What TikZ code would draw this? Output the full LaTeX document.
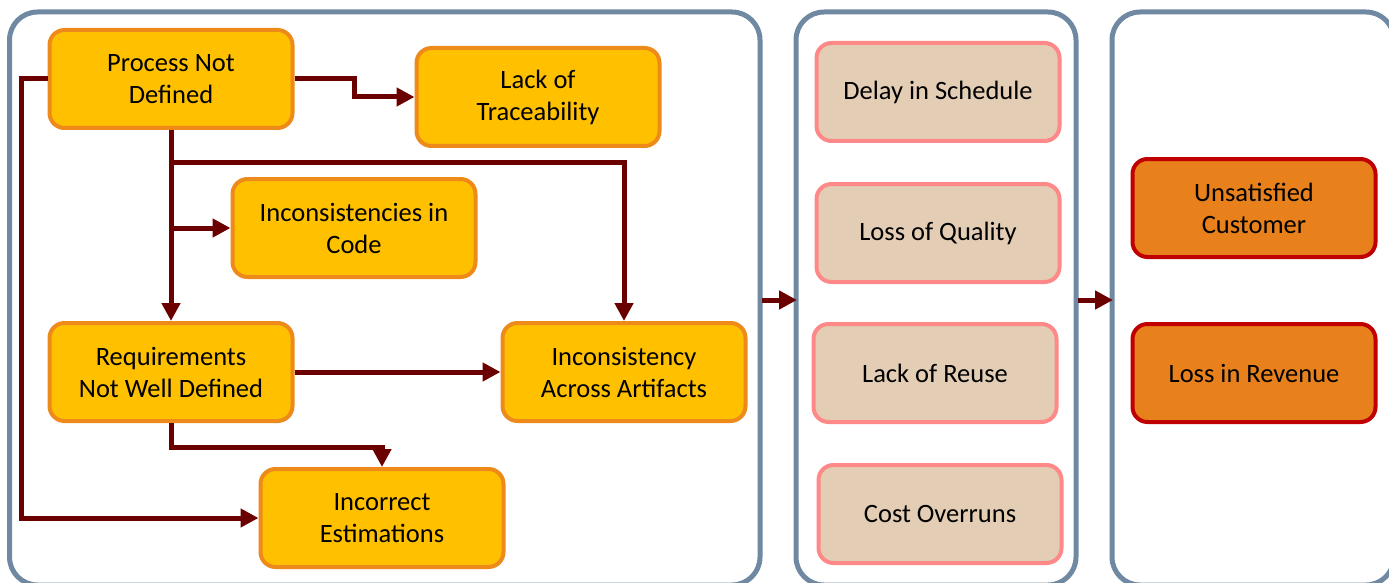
\documentclass[tikz,border=0pt]{standalone}
\usepackage{fontspec}
\setmainfont{Carlito}
\usetikzlibrary{arrows.meta,calc}
\definecolor{panelc}{HTML}{7089A3}
\definecolor{yfill}{HTML}{FFC000}
\definecolor{ydraw}{HTML}{EE8A1A}
\definecolor{pfill}{HTML}{E3CDB4}
\definecolor{pdraw}{HTML}{FF8888}
\definecolor{ofill}{HTML}{E8801C}
\definecolor{odraw}{HTML}{C00000}
\definecolor{arrc}{HTML}{6A0000}
\tikzset{
  panel/.style={draw=panelc, line width=5pt, rounded corners=28pt, fill=white},
  box/.style={rounded corners=15pt, line width=4pt, minimum width=243pt, minimum height=98pt,
    align=center, font=\fontsize{26.5}{32}\selectfont, text=black, inner sep=0pt},
  ybox/.style={box, draw=ydraw, fill=yfill},
  pbox/.style={box, draw=pdraw, fill=pfill},
  obox/.style={box, draw=odraw, fill=ofill},
  arr/.style={draw=arrc, line width=5pt, -{Triangle[length=18pt,width=18pt]}},
}
\begin{document}
\begin{tikzpicture}[x=1pt,y=-1pt]
\useasboundingbox (0,0) rectangle (1389,583);
\clip (0,0) rectangle (1389,583);
% panels
\draw[panel] (9.5,12) rectangle (760,585);
\draw[panel] (796,12) rectangle (1076,585);
\draw[panel] (1112,12) rectangle (1394,585);
% left panel nodes
\node[ybox] (pnd) at (171,79) {Process Not\\Defined};
\node[ybox] (lot) at (538,97) {Lack of\\Traceability};
\node[ybox] (iic) at (354,228) {Inconsistencies in\\Code};
\node[ybox] (rnd) at (171,372) {Requirements\\Not Well Defined};
\node[ybox] (ica) at (624,372) {Inconsistency\\Across Artifacts};
\node[ybox] (ie) at (382,518) {Incorrect\\Estimations};
% middle
\node[pbox] (dis) at (938,92) {Delay in Schedule};
\node[pbox] (loq) at (938,233) {Loss of Quality};
\node[pbox] (lor) at (935,373) {Lack of Reuse};
\node[pbox] (co) at (940,514) {Cost Overruns};
% right
\node[obox] (uc) at (1254,208) {Unsatisfied\\Customer};
\node[obox] (lir) at (1254,373) {Loss in Revenue};
% connectors
\draw[arr] (pnd.east) -- ++(60,0) |- (lot.west);
\draw[arr] (pnd.west) -- ++(-26,0) |- (ie.west);
\draw[arr] (pnd.south) -- (rnd.north);
\draw[arr] ($(pnd.south)+(0,32)$) -| (ica.north);
\draw[arr] (pnd.south |- iic.west) -- (iic.west);
\draw[arr] (rnd.east) -- (ica.west);
\draw[arr] (rnd.south) -- ++(0,24) -| (ie.north);
% between panels
\coordinate (a1s) at (762,300);
\coordinate (a1e) at (797,300);
\coordinate (a2s) at (1078,300);
\coordinate (a2e) at (1113,300);
\draw[arr] (a1s) -- (a1e);
\draw[arr] (a2s) -- (a2e);
\end{tikzpicture}
\end{document}
